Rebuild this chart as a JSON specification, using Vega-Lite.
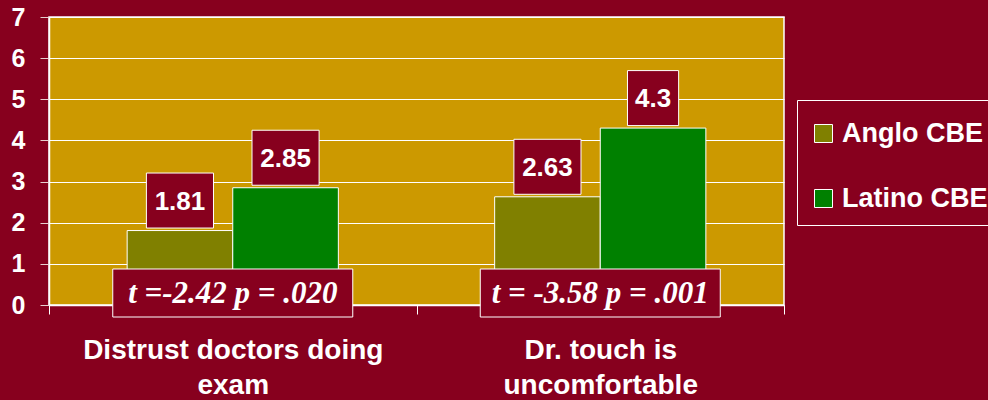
{
  "$schema": "https://vega.github.io/schema/vega-lite/v6.json",
  "width": 735,
  "height": 288,
  "autosize": "none",
  "padding": {"left": 49, "top": 17, "right": 204, "bottom": 95},
  "background": "#87001E",
  "config": {
    "view": {"fill": "#CC9900", "stroke": "white", "strokeWidth": 1.5},
    "font": "Liberation Sans",
    "legend": {
      "orient": "none", "legendX": 748, "legendY": 83, "direction": "vertical",
      "fillColor": "#87001E", "strokeColor": "white", "padding": 13,
      "symbolType": "square", "symbolSize": 324, "symbolStrokeColor": "white", "symbolStrokeWidth": 1,
      "labelFontSize": 27, "labelFontWeight": "bold", "labelColor": "white", "labelOffset": 5,
      "rowPadding": 37, "labelLimit": 0, "labelFont": "Liberation Sans",
      "titleFontSize": 7, "titlePadding": 0, "titleColor": "#87001E"
    }
  },
  "datasets": {
    "means": [
      {"item": "Distrust doctors doing exam", "group": "Anglo CBE", "value": 1.81},
      {"item": "Distrust doctors doing exam", "group": "Latino CBE", "value": 2.85},
      {"item": "Dr. touch is uncomfortable", "group": "Anglo CBE", "value": 2.63},
      {"item": "Dr. touch is uncomfortable", "group": "Latino CBE", "value": 4.3}
    ],
    "tests": [
      {"item": "Distrust doctors doing exam", "stat": "t =-2.42 p = .020"},
      {"item": "Dr. touch is uncomfortable", "stat": "t = -3.58 p = .001"}
    ]
  },
  "encoding": {
    "x": {
      "field": "item", "type": "nominal", "sort": null,
      "scale": {"paddingInner": 0, "paddingOuter": 0},
      "axis": {
        "title": null, "labelAngle": 0, "domainColor": "white", "domainWidth": 1.5,
        "tickColor": "white", "tickBand": "extent", "tickSize": 9,
        "labelFontSize": 28, "labelFontWeight": "bold", "labelColor": "white",
        "labelPadding": 44, "labelLineHeight": 35, "labelLimit": 0, "labelBaseline": "alphabetic",
        "labelExpr": "datum.label == 'Distrust doctors doing exam' ? ['Distrust doctors doing', 'exam'] : datum.label == 'Dr. touch is uncomfortable' ? ['Dr. touch is', 'uncomfortable'] : ''"
      }
    }
  },
  "layer": [
    {
      "data": {"name": "means"},
      "mark": {"type": "bar", "stroke": "white", "strokeWidth": 1},
      "encoding": {
        "xOffset": {"field": "group", "type": "nominal", "scale": {"paddingOuter": 0.74, "paddingInner": 0}},
        "y": {
          "field": "value", "type": "quantitative",
          "scale": {"domain": [0, 7], "nice": false},
          "axis": {
            "title": null, "values": [0, 1, 2, 3, 4, 5, 6, 7], "grid": true, "gridColor": "white", "gridWidth": 1.2,
            "domainColor": "white", "domainWidth": 1.5, "tickColor": "#E6CFCF", "tickSize": 9,
            "labelFontSize": 25, "labelFontWeight": "bold", "labelColor": "white", "labelPadding": 15
          }
        },
        "color": {
          "field": "group", "type": "nominal", "title": " ",
          "scale": {"domain": ["Anglo CBE", "Latino CBE"], "range": ["#808000", "#008000"]}
        }
      }
    },
    {
      "data": {"name": "means"},
      "mark": {"type": "point", "filled": true, "fill": "#87001E", "stroke": "white", "strokeWidth": 1, "opacity": 1, "yOffset": -30},
      "encoding": {
        "xOffset": {"field": "group", "type": "nominal", "scale": {"paddingOuter": 0.74, "paddingInner": 0}},
        "y": {"field": "value", "type": "quantitative"},
        "shape": {
          "condition": {"test": "datum.value == 4.3", "value": "M-0.93,-1H0.93V1H-0.93Z"},
          "value": "M-1.22,-1H1.22V1H-1.22Z"
        },
        "size": {"value": 3025}
      }
    },
    {
      "data": {"name": "means"},
      "mark": {"type": "text", "fill": "white", "fontSize": 26, "fontWeight": "bold", "baseline": "middle", "align": "center", "yOffset": -29},
      "encoding": {
        "xOffset": {"field": "group", "type": "nominal", "scale": {"paddingOuter": 0.74, "paddingInner": 0}},
        "y": {"field": "value", "type": "quantitative"},
        "text": {"field": "value", "type": "nominal"}
      }
    },
    {
      "data": {"name": "tests"},
      "mark": {"type": "point", "filled": true, "fill": "#87001E", "stroke": "white", "strokeWidth": 1, "opacity": 1, "yOffset": -12},
      "encoding": {
        "y": {"datum": 0, "type": "quantitative"},
        "shape": {"value": "M-5,-1H5V1H-5Z"},
        "size": {"value": 2304}
      }
    },
    {
      "data": {"name": "tests"},
      "mark": {"type": "text", "fill": "white", "font": "Liberation Serif", "fontSize": 31, "fontWeight": "bold", "fontStyle": "italic", "baseline": "middle", "align": "center", "yOffset": -11},
      "encoding": {
        "y": {"datum": 0, "type": "quantitative"},
        "text": {"field": "stat", "type": "nominal"}
      }
    }
  ]
}
